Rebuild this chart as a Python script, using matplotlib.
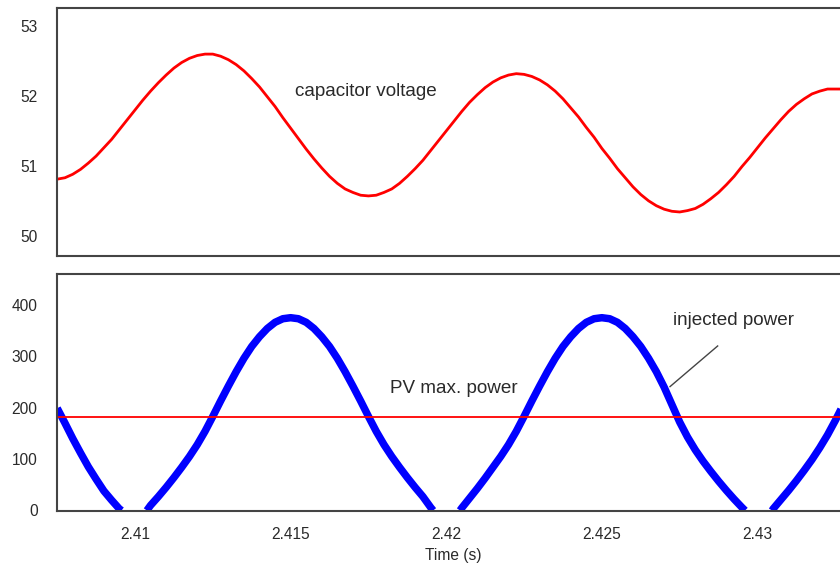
import numpy as np
import matplotlib
matplotlib.use("Agg")
import matplotlib.pyplot as plt

plt.rcParams["font.family"] = ["Liberation Sans", "DejaVu Sans"]

# === Données (pas de 0.25 ms) ===
t = np.round(2.4075 + 0.00025 * np.arange(103), 5)

tension_cap = [
    50.81, 50.83, 50.88, 50.95, 51.04, 51.14, 51.26, 51.38, 51.52, 51.66,
    51.80, 51.94, 52.07, 52.19, 52.30, 52.40, 52.48, 52.54, 52.58, 52.60,
    52.60, 52.57, 52.52, 52.45, 52.36, 52.25, 52.13, 51.99, 51.85, 51.69,
    51.54, 51.39, 51.24, 51.10, 50.97, 50.85, 50.75, 50.67, 50.62, 50.58,
    50.57, 50.58, 50.62, 50.67, 50.75, 50.85, 50.96, 51.08, 51.22, 51.36,
    51.50, 51.64, 51.78, 51.91, 52.02, 52.12, 52.20, 52.26, 52.30, 52.32,
    52.31, 52.28, 52.23, 52.16, 52.07, 51.96, 51.83, 51.70, 51.55, 51.41,
    51.25, 51.11, 50.96, 50.83, 50.70, 50.59, 50.50, 50.43, 50.38, 50.35,
    50.34, 50.36, 50.39, 50.45, 50.53, 50.62, 50.73, 50.85, 50.99, 51.12,
    51.26, 51.40, 51.53, 51.66, 51.78, 51.88, 51.96, 52.03, 52.07, 52.10,
    52.10, 52.10, 52.09,
]

# nan = zone morte (puissance nulle, cachée par l'axe)
nan = np.nan
puissance_inj = [
    199, 170, 140, 112, 85, 61, 38, 20, 3, nan,
    nan, nan, 10, 27, 45, 64, 84, 105, 128, 154,
    183, 213, 242, 270, 296, 319, 338, 354, 366, 373,
    375, 373, 366, 354, 338, 319, 296, 270, 242, 213,
    183, 154, 128, 105, 84, 64, 45, 27, 6, nan,
    nan, nan, 5, 24, 43, 63, 84, 105, 128, 154,
    183, 213, 242, 270, 296, 319, 338, 354, 366, 373,
    375, 373, 366, 354, 338, 319, 296, 270, 240, 206,
    172, 143, 118, 96, 76, 57, 39, 22, 6, nan,
    nan, nan, 3, 21, 39, 58, 78, 99, 122, 147,
    175, 205, 234,
]
# instants où la puissance atteint / quitte zéro
debut_zero = [2.40957, 2.41958, 2.42960]
fin_zero = [2.41038, 2.42044, 2.43047]

pv_max = 182.5

ticks_x = [2.41, 2.415, 2.42, 2.425, 2.43]
labels_x = ["2.41", "2.415", "2.42", "2.425", "2.43"]
ticks_v = [50, 51, 52, 53]
ticks_p = [0, 100, 200, 300, 400]

# assemblage de la courbe de puissance avec les points à zéro
t_p = np.concatenate([t, debut_zero, fin_zero])
p_p = np.concatenate([puissance_inj, np.zeros(len(debut_zero) + len(fin_zero))])
ordre = np.argsort(t_p, kind="stable")
t_p, p_p = t_p[ordre], p_p[ordre]

# === Figure ===
fig = plt.figure(figsize=(8.4, 5.69), dpi=100)
W, H = 840, 569
ax1 = fig.add_axes([57 / W, 1 - 256 / H, (850 - 57) / W, (256 - 8) / H])
ax2 = fig.add_axes([57 / W, 1 - 510.5 / H, (850 - 57) / W, (510.5 - 274) / H])

gris = "#2a2a2a"
for ax in (ax1, ax2):
    ax.set_xlim(2.407494, 2.432972)
    ax.set_xticks(ticks_x)
    ax.spines["right"].set_visible(False)
    for s in ("left", "top", "bottom"):
        ax.spines[s].set_color("#444444")
        ax.spines[s].set_linewidth(1.5)
        ax.spines[s].set_zorder(3)
    ax.tick_params(length=0, labelsize=11.2, colors=gris)
    ax.tick_params(axis="y", pad=14)
    ax.tick_params(axis="x", pad=12)

# Tension condensateur
ax1.plot(t, tension_cap, color="red", lw=2.0)
ax1.set_ylim(49.71, 53.26)
ax1.set_yticks(ticks_v)
ax1.set_xticklabels([])
ax1.text(2.41514, 52.07, "capacitor voltage", fontsize=13.6, color=gris, va="center")

# Puissance injectée
ax2.plot(t_p, p_p, color="blue", lw=5.4, solid_capstyle="butt", zorder=2)
ax2.axhline(pv_max, color="red", lw=1.3, zorder=2.2)
ax2.set_ylim(0, 460)
ax2.set_yticks(ticks_p)
ax2.set_xticklabels(labels_x)
ax2.set_xlabel("Time (s)", fontsize=11.2, color=gris, labelpad=4)
ax2.text(2.41819, 238, "PV max. power", fontsize=13.6, color=gris, va="center")
ax2.text(2.42729, 370, "injected power", fontsize=13.6, color=gris, va="center")
ax2.plot([2.42872, 2.42719], [320, 241], color="#444444", lw=1.0, zorder=3)

fig.savefig("out.png", dpi=100)
